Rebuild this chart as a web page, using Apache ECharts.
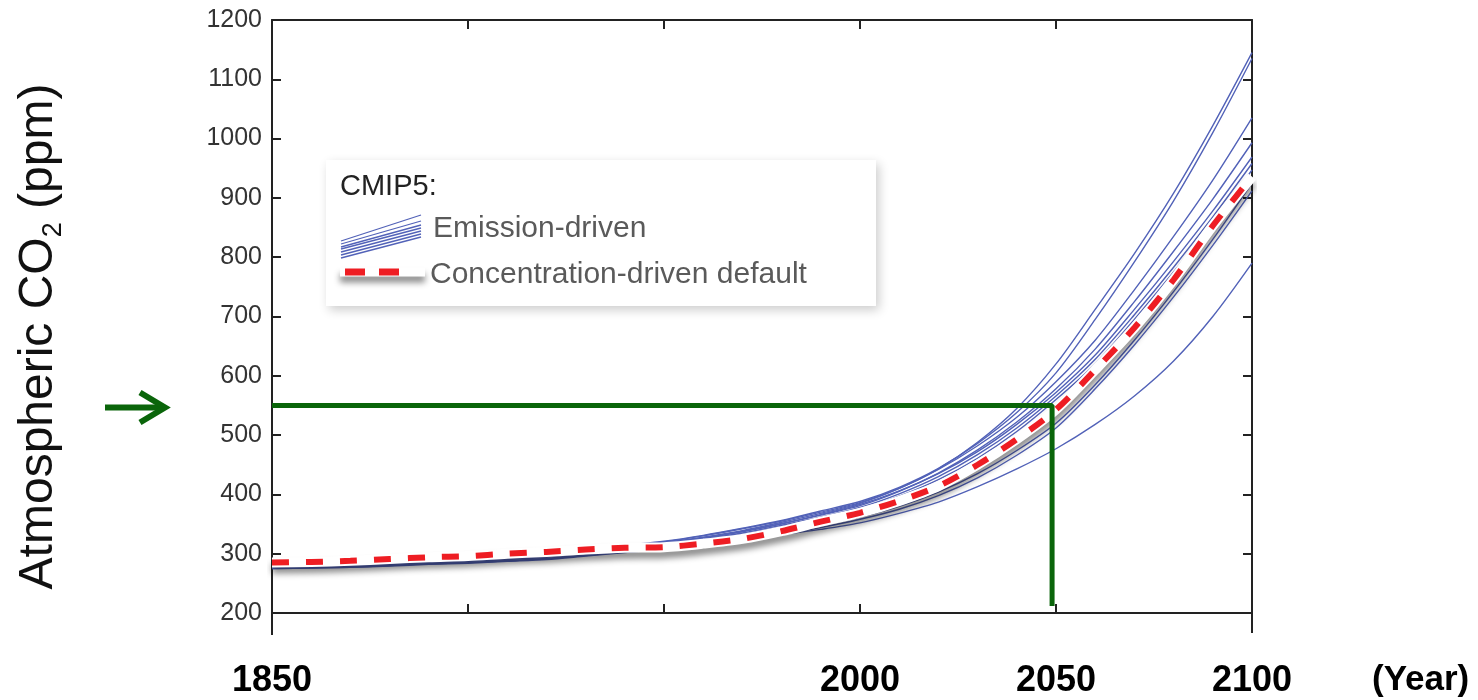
<!DOCTYPE html>
<html>
<head>
<meta charset="utf-8">
<script src="https://cdn.jsdelivr.net/npm/echarts@6/dist/echarts.min.js"></script>
<style>html,body{margin:0;padding:0;background:#fff}#c{width:1478px;height:700px}</style>
</head>
<body>
<div id="c"></div>
<script>
// ---- data ----
const years = [1850,1860,1870,1880,1890,1900,1910,1920,1930,1940,1950,1960,1970,1980,1990,2000,2010,2020,2030,2040,2050,2060,2070,2080,2090,2100];
// concentration-driven default (red dashed)
const concDefault = [285,286,288,291,294,296,300,303,307,310,311,317,325,338,354,369,389,414,450,493,543,610,681,762,853,936];
// emission-driven model runs (blue)
const esmA = [277,278,280,283,286,289,293,299,306,313,320,330,342,355,370,386,410,443,488,545,620,712,806,908,1022,1145];
const esmB = [277,278,280,283,286,289,293,299,306,314,321,331,343,356,372,388,412,444,486,538,605,695,792,895,1010,1135];
const esmC = [278,279,281,284,287,290,294,298,305,312,319,328,339,353,368,385,410,442,482,530,590,660,745,835,930,1035];
const esmD = [277,278,280,283,286,288,292,296,303,310,317,326,337,350,365,381,405,436,475,522,578,645,725,810,898,993];
const esmE = [278,279,281,284,287,289,293,297,304,311,318,327,338,351,366,383,406,435,472,518,572,635,712,793,878,969];
const esmF = [277,278,280,283,286,288,291,295,302,309,316,325,335,348,362,378,401,430,467,512,566,628,703,783,868,958];
const esmG = [276,277,279,282,285,287,290,294,301,308,315,324,333,346,360,375,397,425,461,506,560,620,695,775,858,947];
const esmH = [276,277,278,280,283,285,288,292,298,304,310,317,325,336,348,362,380,404,435,474,520,585,660,742,830,925];
const esmI = [275,276,277,279,282,284,287,290,296,302,308,314,322,332,344,358,375,398,428,466,512,578,652,733,820,912];
const esmJ = [275,276,277,280,283,285,288,291,297,303,310,316,322,332,341,352,368,387,413,443,477,518,566,625,700,790];
const emissionRuns = [esmA, esmB, esmC, esmD, esmE, esmF, esmG, esmH, esmI, esmJ];
// green guide: 550 ppm reached around 2050
const guideYears = [1850, 2049, 2049];
const guidePpm = [550, 550, 212];
// tick labels
const xTickLabels = [1850, 2000, 2050, 2100];
const xMin = 1850, xMax = 2100, xStep = 50;
const yMin = 200, yMax = 1200, yStep = 100;

const FONT = '"Liberation Sans", Arial, Helvetica, sans-serif';
const chart = echarts.init(document.getElementById('c'));
const pairs = (xs, ys) => xs.map((x, i) => [x, ys[i]]);

const blueSeries = emissionRuns.map((run) => ({
  name: 'Emission-driven', type: 'line', data: pairs(years, run),
  smooth: 0.3, symbol: 'none', silent: true, z: 2,
  lineStyle: { color: '#5262b8', width: 1.4 }
}));

const axisLineStyle = { color: '#222', width: 2 };

function legendEls() {
  const els = [];
  els.push({ type: 'rect', shape: { x: 326, y: 160, width: 550, height: 146 },
    style: { fill: '#fff', shadowBlur: 10, shadowColor: 'rgba(0,0,0,0.2)', shadowOffsetX: 3, shadowOffsetY: 4 }, z: 10 });
  els.push({ type: 'text', x: 340, y: 187, z: 11,
    style: { text: 'CMIP5:', fontSize: 29, fontFamily: FONT, fill: '#222', verticalAlign: 'middle' } });
  const ly = [241, 244, 247, 249, 252, 255, 258];
  const ry = [215, 221, 225, 228, 231, 234, 237];
  ly.forEach((y, i) => els.push({ type: 'line', z: 11,
    shape: { x1: 341, y1: y, x2: 421, y2: ry[i] }, style: { stroke: '#5262b8', lineWidth: 1.3 } }));
  els.push({ type: 'text', x: 433, y: 229, z: 11,
    style: { text: 'Emission-driven', fontSize: 30, fontFamily: FONT, fill: '#5a5a5a', verticalAlign: 'middle' } });
  els.push({ type: 'line', z: 11, shape: { x1: 340, y1: 272, x2: 425, y2: 272 },
    style: { stroke: '#fff', lineWidth: 9, shadowColor: 'rgba(0,0,0,0.45)', shadowBlur: 6, shadowOffsetY: 6 } });
  els.push({ type: 'line', z: 12, shape: { x1: 345, y1: 272, x2: 400, y2: 272 },
    style: { stroke: '#ee1d23', lineWidth: 7, lineDash: [20, 14] } });
  els.push({ type: 'text', x: 430, y: 275, z: 11,
    style: { text: 'Concentration-driven default', fontSize: 30, fontFamily: FONT, fill: '#5a5a5a', verticalAlign: 'middle' } });
  return els;
}

const option = {
  animation: false,
  backgroundColor: '#fff',
  grid: { left: 272, right: 226, top: 20, bottom: 87, containLabel: false, outerBoundsMode: 'none' },
  xAxis: [{
    type: 'value', min: xMin, max: xMax, interval: xStep, position: 'bottom',
    axisLine: { show: true, onZero: false, lineStyle: axisLineStyle },
    axisTick: { show: true, inside: true, length: 9, lineStyle: axisLineStyle },
    axisLabel: { margin: 50, fontSize: 36, fontWeight: 'bold', color: '#000', fontFamily: FONT,
      showMinLabel: true, showMaxLabel: true,
      formatter: v => xTickLabels.indexOf(v) >= 0 ? String(v) : '' },
    splitLine: { show: false }
  }, {
    type: 'value', min: xMin, max: xMax, interval: xStep, position: 'top',
    axisLine: { show: true, onZero: false, lineStyle: axisLineStyle },
    axisTick: { show: true, inside: true, length: 9, lineStyle: axisLineStyle },
    axisLabel: { show: false }, splitLine: { show: false }
  }],
  yAxis: [{
    type: 'value', min: yMin, max: yMax, interval: yStep, position: 'left',
    axisLine: { show: true, onZero: false, lineStyle: axisLineStyle },
    axisTick: { show: true, inside: true, length: 9, lineStyle: axisLineStyle },
    axisLabel: { margin: 10, fontSize: 25, color: '#333', fontFamily: FONT, formatter: v => String(v) },
    splitLine: { show: false },
    name: '{a|Atmospheric CO}{s|2}{a| (ppm)}',
    nameLocation: 'middle', nameGap: 205, nameRotate: 90,
    nameTextStyle: { padding: [0, 40, 0, 0], rich: {
      a: { fontSize: 48, fontFamily: FONT, color: '#111' },
      s: { fontSize: 27, fontFamily: FONT, color: '#111', padding: [29, 0, 0, 0] }
    } }
  }, {
    type: 'value', min: yMin, max: yMax, interval: yStep, position: 'right',
    axisLine: { show: true, onZero: false, lineStyle: axisLineStyle },
    axisTick: { show: true, inside: true, length: 9, lineStyle: axisLineStyle },
    axisLabel: { show: false }, splitLine: { show: false }
  }],
  series: blueSeries.concat([
    { name: 'Concentration-driven default (band)', type: 'line', data: pairs(years, concDefault),
      smooth: 0.3, symbol: 'none', silent: true, z: 3,
      lineStyle: { color: '#fff', width: 10, shadowColor: 'rgba(0,0,0,0.45)', shadowBlur: 6, shadowOffsetY: 6 } },
    { name: 'Concentration-driven default', type: 'line', data: pairs(years, concDefault),
      smooth: 0.3, symbol: 'none', silent: true, z: 4,
      lineStyle: { color: '#ee1d23', width: 6, type: [17, 17], cap: 'butt' } },
    { name: '550 ppm', type: 'line', data: pairs(guideYears, guidePpm),
      symbol: 'none', silent: true, z: 5,
      lineStyle: { color: '#0a650a', width: 5 } }
  ]),
  graphic: legendEls()
};
chart.setOption(option);

// decorations placed through the chart's own scales
const p0 = chart.convertToPixel({ gridIndex: 0 }, [xMin, yMin]);
const p1 = chart.convertToPixel({ gridIndex: 0 }, [xMax, yMin]);
const pg = chart.convertToPixel({ gridIndex: 0 }, [xMin, guidePpm[0]]);
const ay = pg[1] + 2;
const extra = [
  { type: 'line', shape: { x1: p0[0], y1: p0[1], x2: p0[0], y2: p0[1] + 22 }, style: { stroke: '#222', lineWidth: 2 } },
  { type: 'line', shape: { x1: p1[0], y1: p1[1], x2: p1[0], y2: p1[1] + 20 }, style: { stroke: '#222', lineWidth: 2 } },
  { type: 'text', x: p1[0] + 120, y: 680,
    style: { text: '(Year)', fontSize: 35, fontWeight: 'bold', fontFamily: FONT, fill: '#000', verticalAlign: 'middle' } },
  { type: 'line', shape: { x1: 105, y1: ay, x2: 162, y2: ay }, style: { stroke: '#0a650a', lineWidth: 6 } },
  { type: 'polyline', shape: { points: [[140, ay - 15], [165, ay], [140, ay + 15]] },
    style: { stroke: '#0a650a', lineWidth: 6, fill: null, lineJoin: 'miter' } }
];
chart.setOption({ graphic: legendEls().concat(extra) });
</script>
</body>
</html>
